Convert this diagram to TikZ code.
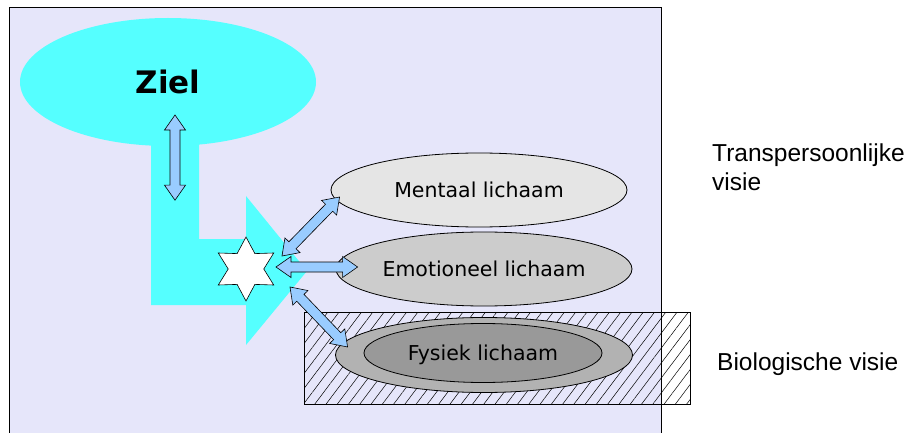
\documentclass[tikz,border=0pt]{standalone}
\usepackage{fontspec}
\setmainfont{DejaVu Sans}
\newfontfamily\visionfont{Liberation Sans}
\usepackage{tikz}
\usetikzlibrary{calc,shapes.geometric,patterns.meta}
\definecolor{lavendel}{RGB}{230,230,250}
\definecolor{aqua}{RGB}{85,255,255}
\definecolor{pijl}{RGB}{153,204,255}
\tikzset {
	body/.style={ellipse, draw, line width=.8pt, inner sep=0pt, text depth=0pt,
					minimum width=296pt, minimum height=74pt, font=\fontsize{20.5}{24}\selectfont},
	mental/.style={body, fill=black!10},
	emotional/.style={body, fill=black!20},
	physical/.style={body, fill=black!30, minimum width=297pt, minimum height=75pt},
	core/.style={body, fill=black!40, minimum width=238pt, minimum height=59pt},
	soul/.style={ellipse, fill=aqua, inner sep=0pt, minimum width=296pt, minimum height=128pt,
					font=\bfseries\fontsize{31}{36}\selectfont},
	hatchBox/.style={rectangle, draw, line width=.6pt, minimum width=386pt, minimum height=92pt,
					pattern={Lines[angle=53, distance=9pt, line width=.5pt]}},
	self/.style={star, star points=6, star point ratio=1.8, minimum size=64pt, inner sep=0pt,
					draw, line width=.6pt, fill=white},
	vision/.style={inner sep=0pt, align=left, font=\visionfont\fontsize{24.5}{29}\selectfont},
	along/.style={shift={(\p1)}, rotate=\n1},
	fatArrow/.style={draw, line width=.6pt, fill=pijl, to path={
		let \p1=(\tikztostart), \p2=(\tikztotarget),
			\n1={atan2(\y2-\y1,\x2-\x1)}, \n2={veclen(\x2-\x1,\y2-\y1)} in
		([along]0pt,0pt) -- ([along]15pt,10.5pt) -- ([along]15pt,5pt) -- ([along]\n2-15pt,5pt)
		-- ([along]\n2-15pt,10.5pt) -- ([along]\n2,0pt) -- ([along]\n2-15pt,-10.5pt)
		-- ([along]\n2-15pt,-5pt) -- ([along]15pt,-5pt) -- ([along]15pt,-10.5pt) -- cycle
	}}
}
\begin{document}
\begin{tikzpicture}[x=1pt, y=-1pt]
	\useasboundingbox (0,0) rectangle (911,433);
	\fill[lavendel] (9,7) rectangle (661,433);
	\draw[line width=.9pt] (9,433) -- (9,7) -- (661,7) -- (661,433);
	\fill[aqua] (151,120) -- (199,120) -- (199,239) -- (246,239) -- (246,196) -- (307,271)
		-- (246,345) -- (246,305) -- (151,305) -- cycle;
	\node[soul] (ziel) at (168,82) {Ziel};
	\node[hatchBox] (bio) at (497,358) {};
	\node[mental] (ment) at (479,190) {Mentaal lichaam};
	\node[emotional] (emo) at (484,269) {Emotioneel lichaam};
	\node[physical] (fys) at (484,355) {};
	\node[core] (fyscore) at (483,353) {Fysiek lichaam};
	\node[self] (star) at (246,269) {};
	\draw[fatArrow] ([shift={(7,33)}]ziel.center) to ([shift={(7,54)}]ziel.south);
	\draw[fatArrow] ([shift={(36,-13)}]star.center) to ([shift={(9,7)}]ment.west);
	\draw[fatArrow] ([shift={(30,-2)}]star.center) to ([shift={(22,-2)}]emo.west);
	\draw[fatArrow] ([shift={(44,18)}]star.center) to ([shift={(12.5,-8)}]fys.west);
	\node[vision, anchor=north west] (trans) at (712,143.5) {Transpersoonlijke\\visie};
	\node[vision, anchor=base west] (biolabel) at (717,370) {Biologische visie};
\end{tikzpicture}
\end{document}
